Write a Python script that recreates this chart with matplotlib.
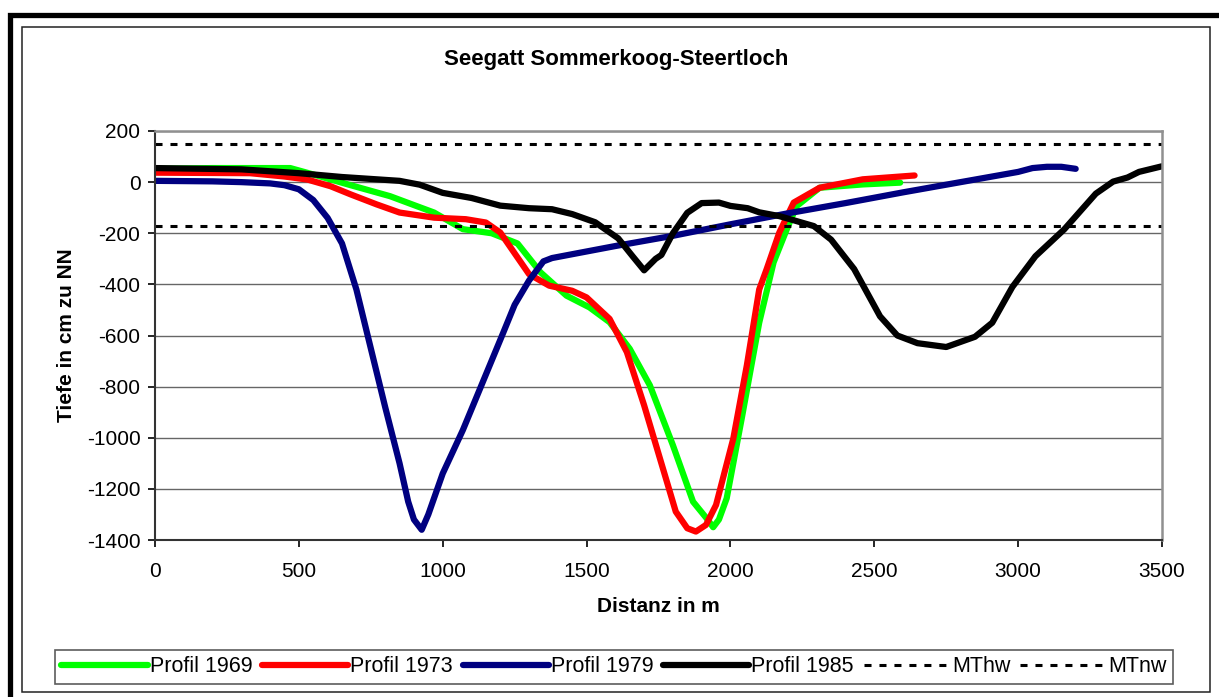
import matplotlib.pyplot as plt
from matplotlib.patches import Rectangle

plt.rcParams['font.family'] = ['Liberation Sans', 'DejaVu Sans']
plt.rcParams['axes.unicode_minus'] = False

# Profil 1969 (gruen)
x_1969 = [0, 200, 470, 550, 680, 817, 910, 970, 1070, 1170, 1260, 1340, 1430, 1510,
          1580, 1650, 1720, 1800, 1870, 1917, 1940, 1960, 1987, 2040, 2100, 2150,
          2196, 2230, 2310, 2460, 2590]
y_1969 = [52, 55, 55, 30, -12, -55, -94, -119, -184, -200, -240, -353, -444, -490,
          -548, -652, -795, -1029, -1250, -1315, -1350, -1320, -1237, -920, -550, -314,
          -184, -94, -22, -9, -2]

# Profil 1973 (rot)
x_1973 = [0, 330, 450, 530, 610, 680, 770, 850, 970, 1080, 1150, 1200, 1300, 1370,
          1450, 1500, 1580, 1640, 1700, 1755, 1810, 1850, 1880, 1915, 1950, 2010,
          2057, 2100, 2126, 2170, 2220, 2310, 2460, 2640]
y_1973 = [37, 35, 22, 10, -16, -48, -87, -119, -139, -145, -158, -197, -360, -405,
          -425, -451, -535, -665, -873, -1081, -1289, -1354, -1367, -1341, -1263, -1003,
          -717, -420, -340, -197, -80, -22, 11, 26]

# Profil 1979 (blau)
x_1979 = [0, 200, 300, 400, 450, 500, 550, 600, 650, 700, 750, 800, 850, 880, 900,
          927, 950, 1000, 1070, 1140, 1210, 1250, 1300, 1350, 1380, 1450, 1600, 1800,
          2000, 2200, 2400, 2600, 2800, 3000, 3050, 3100, 3150, 3200]
y_1979 = [5, 3, 0, -5, -12, -28, -70, -140, -240, -420, -650, -880, -1100, -1250, -1320,
          -1360, -1300, -1140, -970, -780, -590, -480, -385, -310, -297, -282, -250, -210,
          -165, -122, -82, -40, 0, 40, 55, 60, 60, 52]

# Profil 1985 (schwarz)
x_1985 = [0, 300, 500, 650, 850, 920, 1000, 1100, 1200, 1300, 1380, 1450, 1530, 1610,
          1660, 1700, 1740, 1760, 1800, 1850, 1900, 1960, 2000, 2060, 2100, 2170, 2290,
          2350, 2430, 2520, 2580, 2650, 2750, 2850, 2910, 2980, 3060, 3160, 3270, 3330,
          3380, 3420, 3500]
y_1985 = [55, 50, 35, 20, 5, -10, -42, -62, -92, -102, -106, -125, -157, -220,
          -290, -345, -300, -285, -200, -120, -82, -80, -93, -102, -118, -133, -172,
          -225, -340, -525, -600, -630, -645, -605, -550, -410, -290, -185, -45, 2,
          18, 40, 62]

# Tidewasserstaende
x_tide = [0, 3500]
mthw = [150, 150]
mtnw = [-173, -173]

fig = plt.figure(figsize=(12.19, 6.97), dpi=100)
ax = fig.add_axes([155 / 1219, 1 - 540 / 697, 1007 / 1219, 409 / 697])

lw = 4.5
kw = dict(linewidth=lw, solid_capstyle='round', solid_joinstyle='round')
ax.plot(x_1969, y_1969, color='#00FF00', label='Profil 1969', **kw)
ax.plot(x_1973, y_1973, color='#FF0000', label='Profil 1973', **kw)
ax.plot(x_1979, y_1979, color='#000080', label='Profil 1979', **kw)
ax.plot(x_1985, y_1985, color='black', label='Profil 1985', **kw)
ax.plot(x_tide, mthw, color='black', linewidth=2.2, linestyle=(0, (2.3, 2.6)), label='MThw')
ax.plot(x_tide, mtnw, color='black', linewidth=2.2, linestyle=(0, (2.3, 2.6)), label='MTnw')

ax.set_xlim(0, 3500)
ax.set_ylim(-1400, 200)
ax.set_xticks(range(0, 3501, 500))
ax.set_yticks(range(-1400, 201, 200))
ax.yaxis.grid(True, color='#666666', linewidth=1.0)
ax.set_axisbelow(True)
ax.tick_params(labelsize=15, direction='out', length=5, width=1.2, colors='black')
ax.tick_params(axis='x', pad=11)
ax.tick_params(axis='y', pad=5.5)

for side in ['top', 'right']:
    ax.spines[side].set_color('#909090')
    ax.spines[side].set_linewidth(1.8)
for side in ['left', 'bottom']:
    ax.spines[side].set_color('#333333')
    ax.spines[side].set_linewidth(1.5)

ax.set_xlabel('Distanz in m', fontsize=15, fontweight='bold', labelpad=11)
ax.set_ylabel('Tiefe in cm zu NN', fontsize=15, fontweight='bold', labelpad=8)

fig.text(616 / 1219, 1 - 60 / 697, 'Seegatt Sommerkoog-Steertloch',
         fontsize=16, fontweight='bold', ha='center', va='center')

leg = fig.legend(loc='center', bbox_to_anchor=(614 / 1219, 1 - 667 / 697), ncol=6,
                 fontsize=15.5, handlelength=4.0, handletextpad=0.1, columnspacing=0.45,
                 frameon=True, fancybox=False, borderpad=0.3, borderaxespad=0)
leg.get_frame().set_edgecolor('#333333')
leg.get_frame().set_linewidth(1.2)

# Rahmen wie im Excel-Diagramm
fig.patches.append(Rectangle((10 / 1219, -0.05), 1.1, 1 - 15 / 697 + 0.05,
                             transform=fig.transFigure, fill=False,
                             edgecolor='black', linewidth=3.8))
fig.patches.append(Rectangle((22 / 1219, 1 - 692 / 697), 1188 / 1219, 665 / 697,
                             transform=fig.transFigure, fill=False,
                             edgecolor='#222222', linewidth=1.1))

fig.savefig('out.png', dpi=100)
